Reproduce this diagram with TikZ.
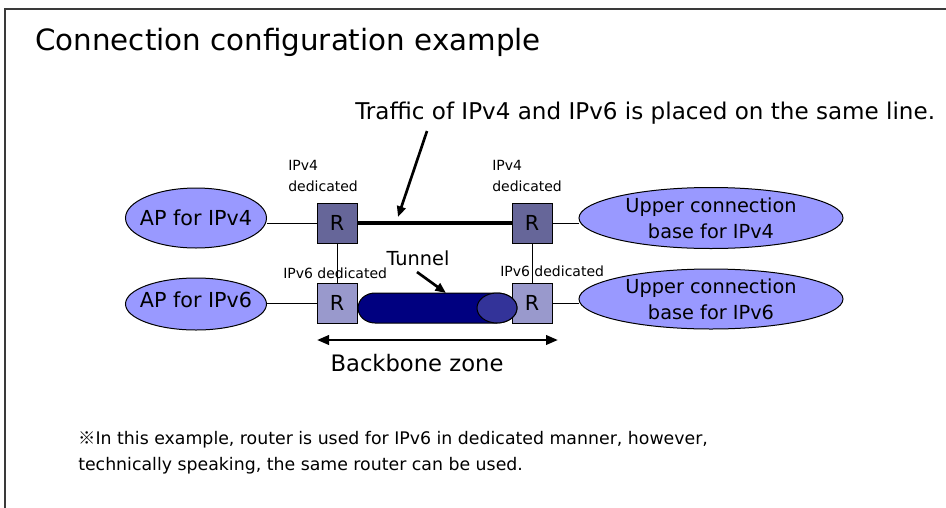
\documentclass[tikz,border=0pt]{standalone}
\usepackage{fontspec}
\setmainfont{DejaVu Sans}
\newfontfamily\cjk{Noto Sans CJK JP}
\usetikzlibrary{shapes.geometric,arrows.meta}
\definecolor{apfill}{HTML}{9999FF}
\definecolor{rdark}{HTML}{666699}
\definecolor{rlight}{HTML}{9999CC}
\definecolor{tunbody}{HTML}{000080}
\definecolor{tunend}{HTML}{333399}
\definecolor{framegray}{HTML}{3A3A3A}

\begin{document}
\begin{tikzpicture}[x=0.75pt,y=-0.75pt,
  router/.style={draw=black, line width=0.75pt, minimum size=30pt, inner sep=0pt,
                 font=\fontsize{15.5}{18}\selectfont},
  site/.style={ellipse, draw=black, line width=0.75pt, fill=apfill, inner sep=0pt},
  sitetext/.style={font=\fontsize{14.5}{19.5}\selectfont, align=center, inner sep=0pt},
  aptext/.style={font=\fontsize{15.5}{19.5}\selectfont, inner sep=0pt},
  tag/.style={font=\fontsize{10.5}{15.75}\selectfont, align=left, inner sep=0pt, anchor=west},
  note/.style={anchor=west, inner sep=0pt, font=\fontsize{13}{16}\selectfont},
  link/.style={line width=0.75pt},
  pointer/.style={line width=2pt, -{Triangle[length=8pt,width=6.5pt]}},
  span/.style={line width=2pt, {Triangle[length=9pt,width=7pt]}-{Triangle[length=9pt,width=7pt]}}
]
\useasboundingbox (0,0) rectangle (946,507);
\clip (0,0) rectangle (946,507);

% slide frame
\draw[framegray, line width=1.5pt] (960,9) -- (4.5,9) -- (4.5,520);

% title
\node[anchor=base west, inner sep=0pt, font=\fontsize{22}{26}\selectfont] (title) at (35,50)
  {Connection configuration example};

% sites
\node[site, minimum width=105.75pt, minimum height=45pt] (ap4) at (196,218) {};
\node[aptext] (ap4t) at (ap4.center) {AP for IPv4};
\node[site, minimum width=105.75pt, minimum height=39pt] (ap6) at (196,304) {};
\node[aptext] (ap6t) at (196,300) {AP for IPv6};
\node[site, minimum width=198pt, minimum height=45.75pt] (up4) at (711,218) {};
\node[sitetext] (up4t) at (up4.center) {Upper connection\\base for IPv4};
\node[site, minimum width=198pt, minimum height=45pt] (up6) at (711,299) {};
\node[sitetext] (up6t) at (up6.center) {Upper connection\\base for IPv6};

% routers
\node[router, fill=rdark]  (r1) at (337,223) {R};
\node[router, fill=rdark]  (r2) at (532,223) {R};
\node[router, fill=rlight] (r3) at (337,303) {R};
\node[router, fill=rlight] (r4) at (532,303) {R};

% tunnel between the IPv6 routers
\fill[tunbody] (375,293) -- (497,293) arc[start angle=-90, end angle=90, x radius=20, y radius=15]
  -- (375,323) arc[start angle=90, end angle=270, x radius=17, y radius=15] -- cycle;
\draw[link] (375,293) -- (497,293) arc[start angle=-90, end angle=90, x radius=20, y radius=15]
  -- (375,323) arc[start angle=90, end angle=270, x radius=17, y radius=15] -- cycle;
\draw[link, fill=tunend] (497,308) ellipse[x radius=20, y radius=15];
\coordinate (tuntop) at (446,293);

% access links
\draw[link] (r1.west) -- (r1.west -| ap4.east);
\draw[link] (r3.west) -- (r3.west -| ap6.east);
\draw[link] (r2.east) -- (r2.east -| up4.west);
\draw[link] (r4.east) -- (r4.east -| up6.west);
\draw[link] (r1.south) -- (r3.north);
\draw[link] (r2.south) -- (r4.north);

% shared IPv4/IPv6 line
\draw[line width=3pt] (r1.east) -- (r2.west);
\coordinate (sharedpt) at (398,217);

% labels
\node[tag] (l1) at (288,175.5) {IPv4\\dedicated};
\node[tag] (l2) at (492,175.5) {IPv4\\dedicated};
\node[tag] (l3) at (283,273) {IPv6 dedicated};
\node[tag] (l4) at (500,271) {IPv6 dedicated};

\node[anchor=west, inner sep=0pt, font=\fontsize{17.3}{20}\selectfont] (traffic) at (355,113)
  {Traffic of IPv4 and IPv6 is placed on the same line.};
\coordinate (traftail) at (427,131);
\draw[pointer] (traftail) -- (sharedpt);

\node[inner sep=0pt, font=\fontsize{14.5}{17}\selectfont] (tunlabel) at (418,258) {Tunnel};
\coordinate (tuntail) at (417,272);
\draw[pointer] (tuntail) -- (tuntop);

% backbone extent
\coordinate (bbl) at (317,340);
\coordinate (bbr) at (558,340);
\draw[span] (bbl) -- (bbr);
\node[inner sep=0pt, font=\fontsize{17}{20}\selectfont] (bblabel) at (417,363) {Backbone zone};

% footnote
\node[note] (note1) at (78,440)
  {{\cjk ※}In this example, router is used for IPv6 in dedicated manner, however,};
\node[note] (note2) at (78,466)
  {technically speaking, the same router can be used.};
\end{tikzpicture}
\end{document}
